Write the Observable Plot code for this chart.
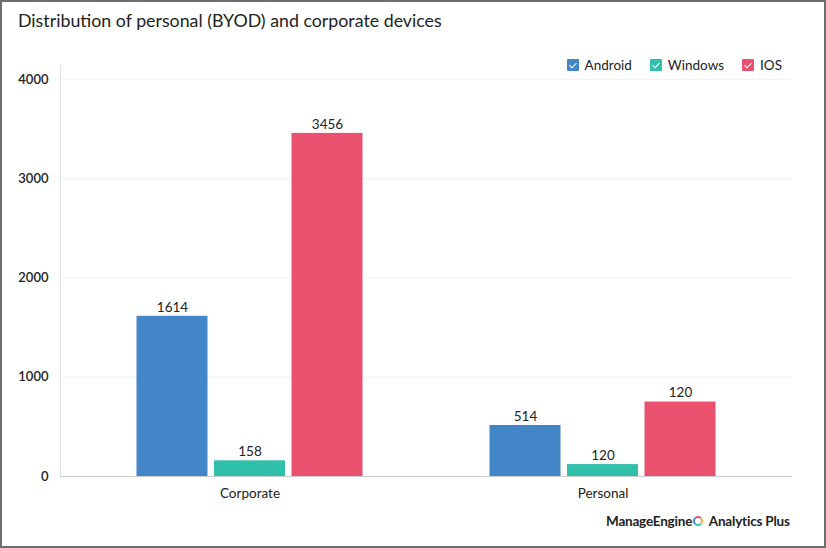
<!DOCTYPE html>
<html><head><meta charset="utf-8">
<script src="https://cdn.jsdelivr.net/npm/d3@7"></script>
<script src="https://cdn.jsdelivr.net/npm/@observablehq/plot@0.6"></script>
<style>
html,body{margin:0;padding:0;background:#fff;}
#wrap{position:relative;width:826px;height:548px;overflow:hidden;font-family:Lato,"Noto Sans",sans-serif;color:#222;}
#wrap svg{position:absolute;left:0;top:0;}
#border{position:absolute;left:0;top:0;right:0;bottom:0;border:2px solid #6e6e6e;pointer-events:none;}
#title{position:absolute;left:18px;top:9px;font-size:17.8px;color:#222;}
#legend{position:absolute;right:44px;top:57px;display:flex;gap:18px;font-size:13.5px;color:#222;}
#legend .it{display:flex;align-items:center;gap:6px;}
#legend .sw{width:12px;height:12px;border-radius:1px;position:relative;}
#legend .sw::after{content:"";position:absolute;left:4px;top:1.5px;width:3px;height:6px;border:solid #fff;border-width:0 1.5px 1.5px 0;transform:rotate(45deg);}
#logo{position:absolute;left:606px;top:513px;font-size:13.5px;font-weight:700;color:#222;letter-spacing:-0.2px;}
#logo .ic{display:inline-block;width:10px;height:10px;border-radius:50%;border:2px solid;border-color:#e9516f #f2b33d #30bfa9 #4286c7;margin:0 3px 0 1px;vertical-align:0px;box-sizing:border-box;}
</style></head>
<body>
<div id="wrap">
  <div id="title">Distribution of personal (BYOD) and corporate devices</div>
  <div id="legend"></div>
  <div id="logo">ManageEngine<span class="ic"></span> Analytics Plus</div>
  <div id="border"></div>
</div>
<script>
const categories = ["Corporate", "Personal"];
const series = ["Android", "Windows", "IOS"];
const colors = ["#4286c7", "#30bfa9", "#e9516f"];
const android = [1614, 514];
const windows = [158, 120];
const ios = [3456, 750];
const valueLabels = {Android: ["1614", "514"], Windows: ["158", "120"], IOS: ["3456", "120"]};
const yTicks = [0, 1000, 2000, 3000, 4000];

const seriesValues = {Android: android, Windows: windows, IOS: ios};
const data = [];
series.forEach(s => categories.forEach((c, i) => data.push({category: c, series: s, value: seriesValues[s][i], label: valueLabels[s][i]})));

const offsets = {Android: -77.5, Windows: 0, IOS: 77.5};

const marks = [
  Plot.gridY(yTicks, {stroke: "#f0f0f0", strokeOpacity: 1}),
  Plot.frame({anchor: "left", stroke: "#e2e2e2"}),
];
series.forEach(s => {
  const d = data.filter(r => r.series === s);
  marks.push(Plot.barY(d, {x: "category", y: "value", fill: "series", dx: offsets[s]}));
  marks.push(Plot.text(d, {x: "category", y: "value", text: "label", dx: offsets[s], dy: -9, fill: "#222", fontSize: 13.5}));
});
marks.push(Plot.ruleY([0], {stroke: "#cccccc"}));
marks.push(Plot.axisY({ticks: yTicks, tickFormat: d => String(d), tickSize: 0, tickPadding: 12, fontSize: 13, fontWeight: 600, fill: "#222", label: null}));
marks.push(Plot.axisX({tickSize: 0, tickPadding: 12, fontSize: 13.5, fill: "#222", label: null}));

const chart = Plot.plot({
  width: 826, height: 548,
  marginTop: 65, marginBottom: 72, marginLeft: 60, marginRight: 34,
  style: {fontFamily: "Lato, 'Noto Sans', sans-serif", background: "transparent", overflow: "visible"},
  x: {domain: categories, paddingInner: 0.7994, paddingOuter: 0.4337},
  y: {domain: [0, 4140]},
  color: {domain: series, range: colors},
  marks
});
const wrap = document.getElementById("wrap");
wrap.insertBefore(chart, wrap.firstChild);

const legend = document.getElementById("legend");
series.forEach((s, i) => {
  const it = document.createElement("div"); it.className = "it";
  const sw = document.createElement("span"); sw.className = "sw"; sw.style.background = colors[i];
  const t = document.createElement("span"); t.textContent = s;
  it.appendChild(sw); it.appendChild(t); legend.appendChild(it);
});
</script>
</body></html>
